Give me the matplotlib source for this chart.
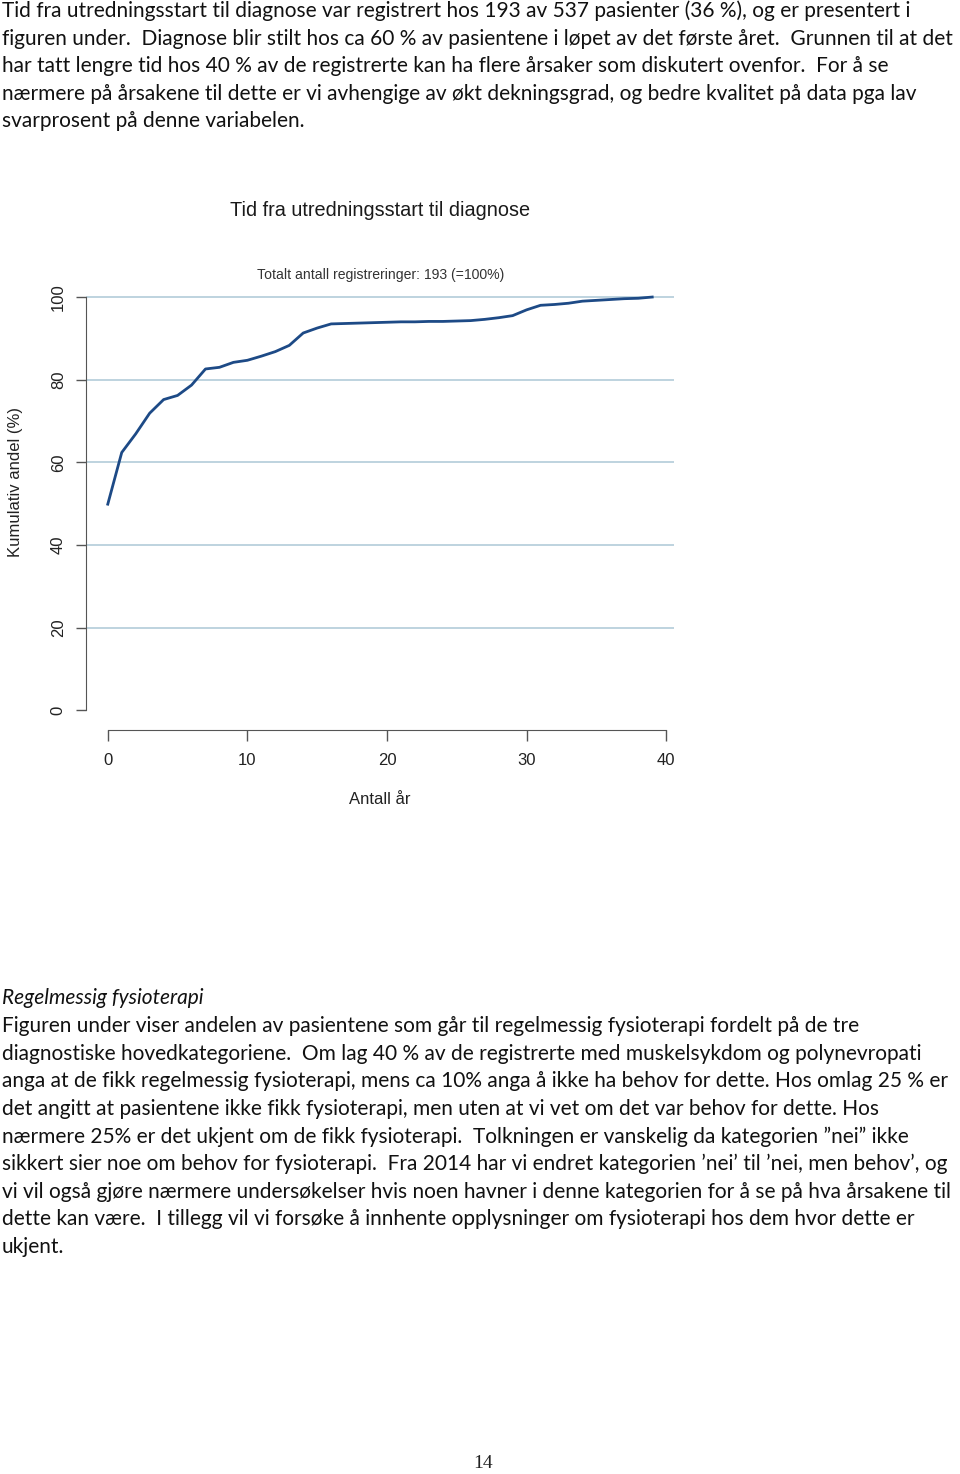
import matplotlib
matplotlib.use("Agg")
import matplotlib.pyplot as plt
import numpy as np

# data (cumulative share per year)
aar = list(range(0, 40))
kumulativ = [49.9, 62.4, 66.9, 71.9, 75.2, 76.2, 78.7, 82.6, 83.0, 84.2,
             84.7, 85.7, 86.8, 88.3, 91.3, 92.5, 93.5, 93.6, 93.7, 93.8,
             93.9, 94.0, 94.0, 94.1, 94.1, 94.2, 94.3, 94.6, 95.0, 95.5,
             96.9, 98.0, 98.2, 98.5, 99.0, 99.2, 99.4, 99.6, 99.7, 100.0]
x_ticks = [0, 10, 20, 30, 40]
y_ticks = [0, 20, 40, 60, 80, 100]
grid_y = [20, 40, 60, 80, 100]

tittel = "Tid fra utredningsstart til diagnose"
undertittel = "Totalt antall registreringer: 193 (=100%)"
xlabel = "Antall år"
ylabel = "Kumulativ andel (%)"

avsnitt1 = [
    "Tid fra utredningsstart til diagnose var registrert hos 193 av 537 pasienter (36 %), og er presentert i",
    "figuren under.  Diagnose blir stilt hos ca 60 % av pasientene i løpet av det første året.  Grunnen til at det",
    "har tatt lengre tid hos 40 % av de registrerte kan ha flere årsaker som diskutert ovenfor.  For å se",
    "nærmere på årsakene til dette er vi avhengige av økt dekningsgrad, og bedre kvalitet på data pga lav",
    "svarprosent på denne variabelen.",
]
overskrift2 = "Regelmessig fysioterapi"
avsnitt2 = [
    "Figuren under viser andelen av pasientene som går til regelmessig fysioterapi fordelt på de tre",
    "diagnostiske hovedkategoriene.  Om lag 40 % av de registrerte med muskelsykdom og polynevropati",
    "anga at de fikk regelmessig fysioterapi, mens ca 10% anga å ikke ha behov for dette. Hos omlag 25 % er",
    "det angitt at pasientene ikke fikk fysioterapi, men uten at vi vet om det var behov for dette. Hos",
    "nærmere 25% er det ukjent om de fikk fysioterapi.  Tolkningen er vanskelig da kategorien \u201dnei\u201d ikke",
    "sikkert sier noe om behov for fysioterapi.  Fra 2014 har vi endret kategorien \u2019nei\u2019 til \u2019nei, men behov\u2019, og",
    "vi vil også gjøre nærmere undersøkelser hvis noen havner i denne kategorien for å se på hva årsakene til",
    "dette kan være.  I tillegg vil vi forsøke å innhente opplysninger om fysioterapi hos dem hvor dette er",
    "ukjent.",
]

W, H = 960, 1474
fig = plt.figure(figsize=(W / 100, H / 100), dpi=100)
fig.patch.set_facecolor("white")
renderer = fig.canvas.get_renderer()

body_font = ["Liberation Sans Narrow", "Lato", "DejaVu Sans"]
chart_font = ["Liberation Sans", "DejaVu Sans"]


def fy(py):
    return 1 - py / H


def tekstlinjer(linjer, y0, dy, bredeste, stil="normal"):
    # pick font size so the longest line is as wide as in the page
    prov = fig.text(0, 0, bredeste, fontsize=14, family=body_font, style=stil)
    w = prov.get_window_extent(renderer).width
    prov.remove()
    size = 14 * 954 / w
    for i, l in enumerate(linjer):
        fig.text(2 / W, fy(y0 + i * dy), l, fontsize=size, family=body_font,
                 va="center", ha="left", color="#111111", style=stil)
    return size


s1 = tekstlinjer(avsnitt1, 11, 27.6, avsnitt1[1])
s2 = tekstlinjer(avsnitt2, 1026, 27.6, avsnitt2[6])
fig.text(2 / W, fy(998), overskrift2, fontsize=s2, family=body_font,
         style="italic", va="center", ha="left", color="#111111")

# chart region (R plot with 4 % axis extension)
left, right, top, bottom = 86, 674, 280.5, 727
ax = fig.add_axes([left / W, 1 - bottom / H, (right - left) / W, (bottom - top) / H])
ax.set_xlim(-0.04 * 39, 39 * 1.04)
ax.set_ylim(-4, 104)
ax.set_facecolor("none")

for g in grid_y:
    ax.axhline(g, color="#b3ccd9", lw=1.2, zorder=1)

ax.plot(aar, kumulativ, color="#1d4a86", lw=2.0, zorder=3, solid_joinstyle="round")

for s in ["top", "right"]:
    ax.spines[s].set_visible(False)
ax.spines["left"].set_bounds(0, 100)
ax.spines["bottom"].set_bounds(0, 40)
ax.spines["bottom"].set_position(("outward", 2))
ax.spines["left"].set_color("#555555")
ax.spines["bottom"].set_color("#555555")
ax.set_xticks(x_ticks)
ax.set_yticks(y_ticks)
ax.tick_params(axis="y", direction="out", length=7.5, width=1.0, color="#555555",
               labelsize=12, labelcolor="#222222", pad=7)
ax.tick_params(axis="x", direction="out", length=8, width=1.0, color="#555555",
               labelsize=12, labelcolor="#222222", pad=8.5)
for t in ax.get_yticklabels():
    t.set_rotation(90)
    t.set_va("center")
    t.set_family(chart_font)
for t in ax.get_xticklabels():
    t.set_family(chart_font)

fig.text(380 / W, fy(210), tittel, fontsize=14.3, family=chart_font, ha="center",
         va="center", color="#1a1a1a")
fig.text(381 / W, fy(275), undertittel, fontsize=10.1, family=chart_font, ha="center",
         va="center", color="#333333")
fig.text(380 / W, fy(800), xlabel, fontsize=12, family=chart_font, ha="center",
         va="center", color="#222222")
fig.text(16 / W, fy(482), ylabel, fontsize=12, family=chart_font, ha="center",
         va="center", rotation=90, color="#222222")

fig.text(483 / W, fy(1463), "14", fontsize=14, family=["Liberation Serif", "DejaVu Serif"],
         ha="center", va="center", color="#222222")

fig.savefig("out.png", dpi=100, facecolor="white")
